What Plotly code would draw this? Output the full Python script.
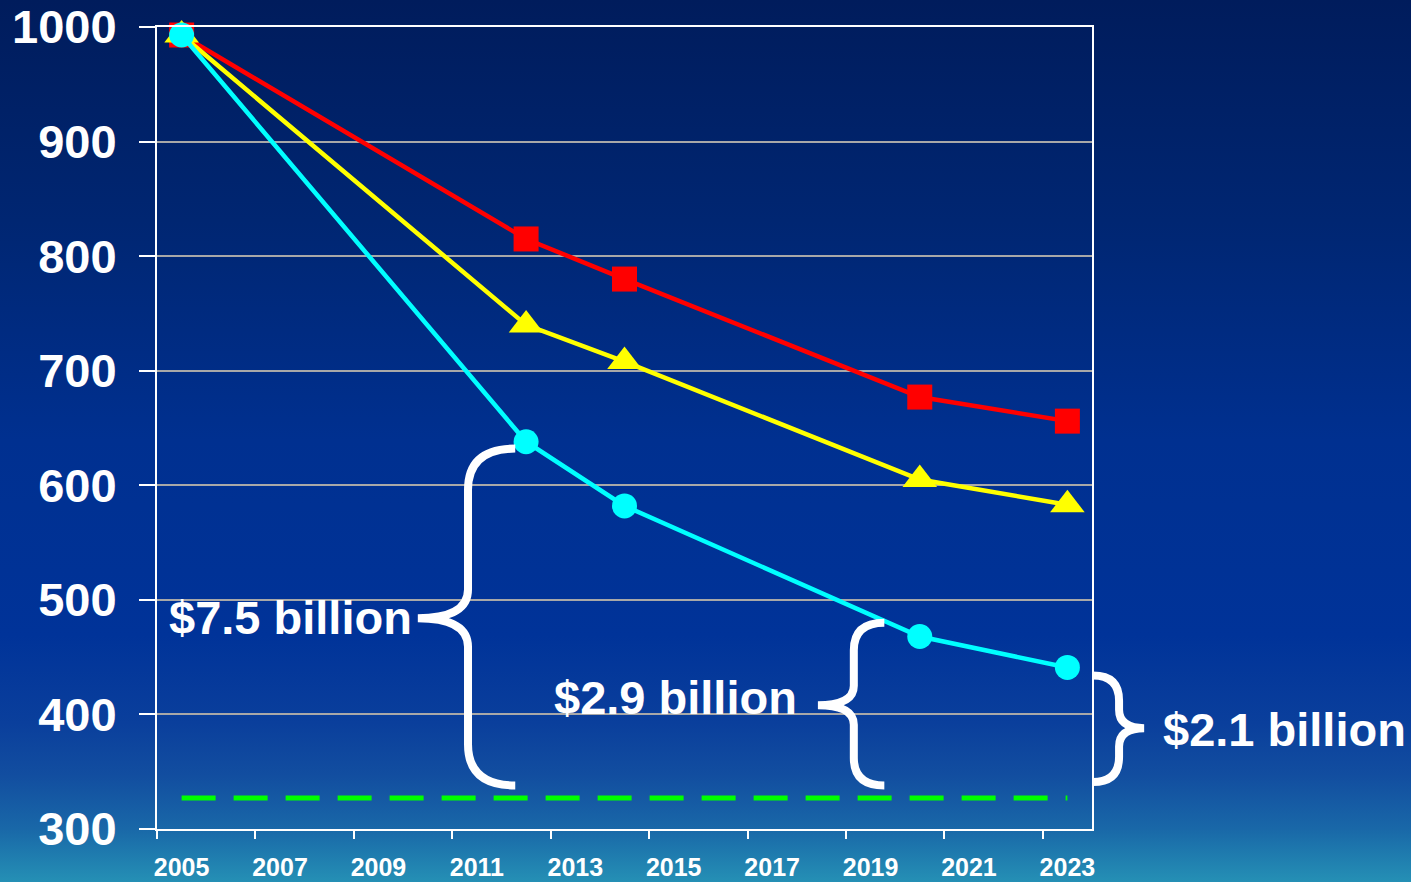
import base64
import plotly.graph_objects as go

# ---------------- data ----------------
years = [2005, 2012, 2014, 2020, 2023]
red_vals = [993, 815, 780, 677, 656]
yellow_vals = [993, 740, 708, 605, 583]
cyan_vals = [993, 638, 582, 468, 441]
target_years = [2005, 2023]
target_vals = [327, 327]

x_tick_vals = [2005, 2007, 2009, 2011, 2013, 2015, 2017, 2019, 2021, 2023]
x_tick_text = [str(v) for v in x_tick_vals]
x_tick_marks = [2004.5, 2006.5, 2008.5, 2010.5, 2012.5, 2014.5, 2016.5, 2018.5, 2020.5, 2022.5]
y_tick_vals = [300, 400, 500, 600, 700, 800, 900, 1000]

labels = ["$7.5 billion", "$2.9 billion", "$2.1 billion"]
label_x = [2007.21, 2015.04, 2027.42]
label_y = [485, 415, 387]

# braces: (x_end, x_vert, x_tip, y_top, y_mid, y_bot, r_end, r_tip)
braces = [
    (2011.78, 2010.82, 2009.80, 632, 484, 338, 36, 25),
    (2019.28, 2018.66, 2017.93, 480, 408, 338, 24, 17),
    (2023.52, 2024.05, 2024.56, 434, 388, 341, 22, 16),
]

# ---------------- layout geometry ----------------
W, H = 1411, 882
ML, MR, MT, MB = 157, 319, 27, 53
XR = [2004.5, 2023.5]
YR = [300, 1000]


def px(x):
    return (x - XR[0]) / (XR[1] - XR[0])


def py(y):
    return (y - YR[0]) / (YR[1] - YR[0])


FONT = "Liberation Sans, Arial, sans-serif"

fig = go.Figure()

fig.add_trace(go.Scatter(
    x=target_years, y=target_vals, mode="lines",
    line=dict(color="#00FF00", width=5, dash="34px,18px"),
    showlegend=False, hoverinfo="skip"))
fig.add_trace(go.Scatter(
    x=years, y=red_vals, mode="lines+markers",
    line=dict(color="#FF0000", width=4.5),
    marker=dict(symbol="square", size=25, color="#FF0000"),
    showlegend=False, cliponaxis=False))
fig.add_trace(go.Scatter(
    x=years, y=yellow_vals, mode="lines+markers",
    line=dict(color="#FFFF00", width=4.5),
    marker=dict(symbol="triangle-up", size=30, color="#FFFF00"),
    showlegend=False, cliponaxis=False))
fig.add_trace(go.Scatter(
    x=years, y=cyan_vals, mode="lines+markers",
    line=dict(color="#00FFFF", width=4.5),
    marker=dict(symbol="circle", size=25, color="#00FFFF"),
    showlegend=False, cliponaxis=False))

# braces as paths in paper coordinates
shapes = []
for (xe, xv, xt, yt, ym, yb, re_, rt) in braces:
    p = (f"M {px(xe)},{py(yt)} "
         f"Q {px(xv)},{py(yt)} {px(xv)},{py(yt - re_)} "
         f"L {px(xv)},{py(ym + rt)} "
         f"Q {px(xv)},{py(ym)} {px(xt)},{py(ym)} "
         f"Q {px(xv)},{py(ym)} {px(xv)},{py(ym - rt)} "
         f"L {px(xv)},{py(yb + re_)} "
         f"Q {px(xv)},{py(yb)} {px(xe)},{py(yb)}")
    shapes.append(dict(type="path", path=p, xref="paper", yref="paper",
                       line=dict(color="white", width=8), layer="above"))

annotations = []
for t, x, y in zip(labels, label_x, label_y):
    annotations.append(dict(
        text=t, x=px(x), y=py(y), xref="paper", yref="paper",
        xanchor="center", yanchor="middle", showarrow=False,
        font=dict(family=FONT, size=47, color="white", weight="bold")))

# gradient background
svg = (
    "<svg xmlns='http://www.w3.org/2000/svg' width='1411' height='882' preserveAspectRatio='none'>"
    "<defs><linearGradient id='g' x1='0' y1='0' x2='0' y2='1'>"
    "<stop offset='0' stop-color='#001C5C'/>"
    "<stop offset='0.25' stop-color='#002672'/>"
    "<stop offset='0.5' stop-color='#003090'/>"
    "<stop offset='0.72' stop-color='#003399'/>"
    "<stop offset='0.82' stop-color='#0A3F9C'/>"
    "<stop offset='0.88' stop-color='#124EA0'/>"
    "<stop offset='0.94' stop-color='#1968A8'/>"
    "<stop offset='1' stop-color='#2590B5'/>"
    "</linearGradient></defs>"
    "<rect x='0' y='0' width='1411' height='882' fill='url(#g)'/></svg>"
)
src = "data:image/svg+xml;base64," + base64.b64encode(svg.encode()).decode()
pw = W - ML - MR
ph = H - MT - MB

fig.update_layout(
    width=W, height=H,
    margin=dict(l=ML, r=MR, t=MT, b=MB, pad=0, autoexpand=False),
    paper_bgcolor="#003090",
    plot_bgcolor="rgba(0,0,0,0)",
    showlegend=False,
    shapes=shapes,
    annotations=annotations,
    images=[dict(source=src, xref="paper", yref="paper",
                 x=-ML / pw, y=1 + MT / ph, sizex=W / pw, sizey=H / ph,
                 xanchor="left", yanchor="top", sizing="stretch", layer="below")],
    xaxis=dict(
        range=XR, tickmode="array", tickvals=x_tick_vals, ticktext=x_tick_text,
        ticks="", showgrid=False, zeroline=False, automargin=False,
        showline=True, linecolor="white", linewidth=2, mirror=True,
        tickfont=dict(family=FONT, size=25, color="white", weight="bold"),
        ticklabelstandoff=15,
        minor=dict(tickmode="array", tickvals=x_tick_marks, ticks="outside",
                   ticklen=8, tickwidth=2, tickcolor="white", showgrid=False),
    ),
    yaxis=dict(
        range=YR, tickmode="array", tickvals=y_tick_vals, automargin=False,
        showgrid=True, gridcolor="#A8A8A8", gridwidth=1.5, zeroline=False,
        showline=True, linecolor="white", linewidth=2, mirror=True,
        ticks="outside", ticklen=16, tickwidth=2, tickcolor="white",
        tickfont=dict(family=FONT, size=47, color="white", weight="bold"),
        ticklabelstandoff=13,
    ),
)

fig.write_html("out.html")
